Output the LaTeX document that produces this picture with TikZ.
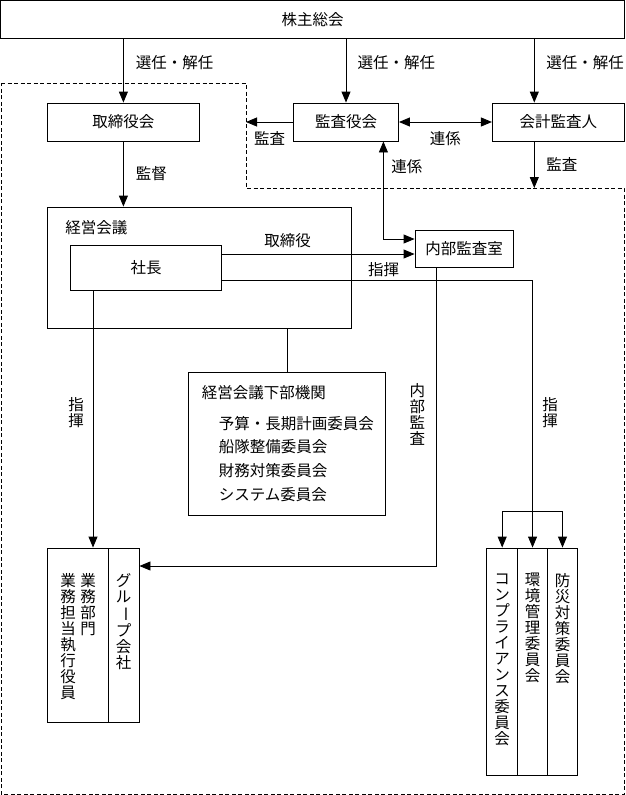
\documentclass[tikz,border=0pt]{standalone}
\usepackage{fontspec}
\newfontfamily\jpfont{Noto Sans CJK JP}
\usetikzlibrary{arrows.meta}

\begin{document}
\begin{tikzpicture}[x=1pt, y=-1pt, line width=0.9pt, >={Triangle[length=11pt,width=9pt]}]
\tikzset{ box/.style={draw, inner sep=0pt, font=\jpfont\fontsize{15.5}{16}\selectfont},
          lbl/.style={inner sep=0pt, font=\jpfont\fontsize{15.5}{16}\selectfont},
          tate/.style={lbl, align=center, text width=16pt},
          area/.style={draw, line width=0.7pt, dash pattern=on 4pt off 2.5pt} };

\useasboundingbox (0,0) rectangle (625,795);

\draw[area] (1,83) -- (246,83) -- (246,188) -- (624,188) -- (624,794) -- (1,794) -- cycle;

\node[box, minimum width=624, minimum height=37.5] (soukai) at (312.5,19.25) {株主総会};

\node[box, minimum width=152, minimum height=38] (torishimari) at (123.4,122) {取締役会};
\node[box, minimum width=105, minimum height=38] (kansayaku) at (346,122) {監査役会};
\node[box, minimum width=132, minimum height=38] (kaikei) at (558.4,122) {会計監査人};

\coordinate (kansaout) at (246,122);
\coordinate (kaikeiout) at (534.3,188);

\draw[->] (torishimari.north |- soukai.south) -- (torishimari.north) node[lbl, pos=.37, right=12pt] (sen1) {選任・解任};
\draw[->] (kansayaku.north |- soukai.south) -- (kansayaku.north) node[lbl, pos=.37, right=11.2pt] (sen2) {選任・解任};
\draw[->] (kaikeiout |- soukai.south) -- (kaikeiout |- kaikei.north) node[lbl, pos=.37, right=11.6pt] (sen3) {選任・解任};

\draw[->] (kansayaku.west) -- (kansaout) node[lbl, midway, below=9pt] (kansa1) {監査};
\draw[<->] (kansayaku.east) -- (kaikei.west) node[lbl, midway, below=9pt] (renkei1) {連係};
\draw[->] (kaikei.south -| kaikeiout) -- (kaikeiout) node[lbl, midway, right=11.7pt] (kansa2) {監査};

\node[box, minimum width=303.5, minimum height=121] (keiei) at (199.25,267.5) {};
\node[lbl, anchor=west] (keieititle) at (65,228) {経営会議};
\node[box, minimum width=151.3, minimum height=45] (shacho) at (146,267.5) {社長};
\draw[->] (torishimari.south) -- (torishimari.south |- keiei.north) node[lbl, midway, right=12pt] (kantoku) {監督};

\node[box, minimum width=98.2, minimum height=37] (naibu) at (464.1,248.5) {内部監査室};
\draw[<->] ([xshift=37.4pt]kansayaku.south) |- ([yshift=9.5pt]naibu.west) node[lbl, pos=.13, right=7.6pt] (renkei2) {連係};
\draw[->] ([yshift=13.5pt]shacho.east) -- ([yshift=13.5pt]shacho.east -| naibu.west) node[lbl, pos=.34, above=5.3pt] (torishimariyaku) {取締役};

\node[box, minimum width=197, minimum height=143, align=left, text width=171pt, inner xsep=13pt,
      font=\jpfont\fontsize{15.5}{23.7}\selectfont] (kaigi) at (287.35,443.5)
      {経営会議下部機関\\[7pt]\hspace*{17pt}予算・長期計画委員会\\\hspace*{17pt}船隊整備委員会\\\hspace*{17pt}財務対策委員会\\\hspace*{17pt}システム委員会};
\draw ([xshift=88.25pt]keiei.south) -- ([xshift=88.25pt]keiei.south |- kaigi.north);

\node[box, minimum width=60.7, minimum height=174] (gyomu) at (77.85,635) {};
\node[box, minimum width=30.8, minimum height=174] (group) at (123.6,635) {};
\node[tate, anchor=north] (gyomubumon) at ([xshift=10.15pt, yshift=-25pt]gyomu.north) {業\\務\\部\\門};
\node[tate, anchor=north] (yakuin) at ([xshift=-9.85pt, yshift=-25pt]gyomu.north) {業\\務\\担\\当\\執\\行\\役\\員};
\node[tate, anchor=north] (grouptext) at ([yshift=-25pt]group.north) {グ\\ル\\\rotatebox[origin=c]{-90}{ー}\\プ\\会\\社};

\draw[->] ([xshift=-53pt]shacho.south) -- ([xshift=-53pt]shacho.south |- gyomu.north) node[tate, pos=.477, left=8.5pt] (shiki3) {指\\揮};
\draw[->] ([xshift=-28pt]naibu.south) |- ([yshift=69pt]group.east) node[tate, pos=.247, left=10.35pt] (naibukansa) {内\\部\\監\\査};

\node[box, minimum width=30.8, minimum height=227] (comp) at (502.2,661.5) {};
\node[box, minimum width=29.9, minimum height=227] (kankyo) at (532.55,661.5) {};
\node[box, minimum width=30, minimum height=227] (bosai) at (562.5,661.5) {};
\node[tate, anchor=north] (comptext) at ([yshift=-26pt]comp.north) {コ\\ン\\プ\\ラ\\イ\\ア\\ン\\ス\\委\\員\\会};
\node[tate, anchor=north] (kankyotext) at ([yshift=-25pt]kankyo.north) {環\\境\\管\\理\\委\\員\\会};
\node[tate, anchor=north] (bosaitext) at ([yshift=-25pt]bosai.north) {防\\災\\対\\策\\委\\員\\会};

\coordinate (branch) at ([yshift=36pt]kankyo.north);
\draw ([yshift=-12.8pt]shacho.east) -| (branch) node[lbl, pos=.26, above=3.5pt] (shiki1) {指揮} node[tate, pos=.786, right=9pt] (shiki2) {指\\揮};
\draw[->] (branch) -- (kankyo.north);
\draw[->] (branch) -| (comp.north);
\draw[->] (branch) -| (bosai.north);

\end{tikzpicture}
\end{document}
